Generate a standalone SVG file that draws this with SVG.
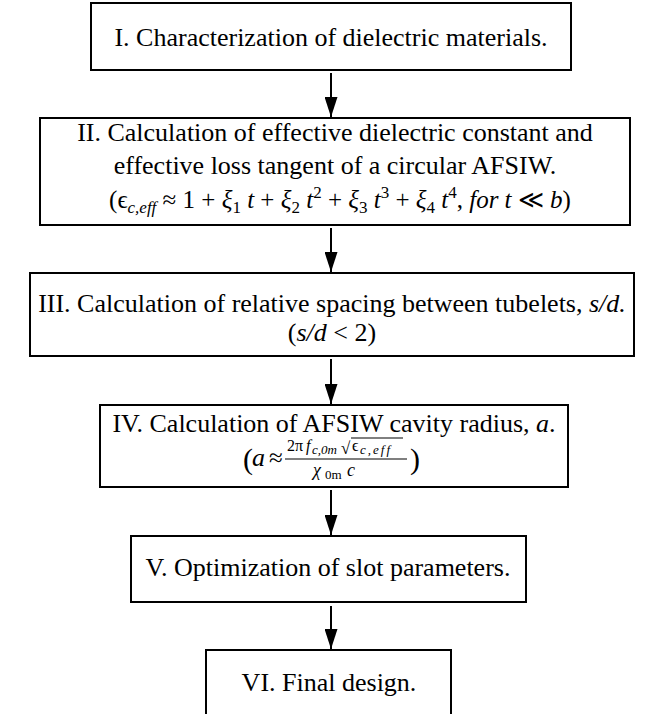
<svg xmlns="http://www.w3.org/2000/svg" width="656" height="714" viewBox="0 0 656 714">
<defs>
<marker id="ah" viewBox="0 0 20 13" refX="20" refY="6.5" markerWidth="20" markerHeight="13" markerUnits="userSpaceOnUse" orient="auto">
<path d="M0,0 L20,6.5 L0,13 Z" fill="#000"/>
</marker>
<style>
.box{fill:#fff;stroke:#000;stroke-width:2}
.t{font-family:"Liberation Serif","Times New Roman",serif;font-size:26px;fill:#000}
.m{font-family:"Liberation Serif","DejaVu Serif",serif;fill:#000}
.i{font-style:italic}
.c{text-anchor:middle}
.con{stroke:#000;stroke-width:2;fill:none}
</style>
</defs>
<rect width="656" height="714" fill="#fff"/>
<g id="connectors">
<line class="con" x1="331" y1="73" x2="331" y2="117" marker-end="url(#ah)"/>
<line class="con" x1="331" y1="228" x2="331" y2="272" marker-end="url(#ah)"/>
<line class="con" x1="331" y1="359" x2="331" y2="404" marker-end="url(#ah)"/>
<line class="con" x1="331" y1="490" x2="331" y2="535" marker-end="url(#ah)"/>
<line class="con" x1="331" y1="606" x2="331" y2="649" marker-end="url(#ah)"/>
</g>
<g id="node1">
<rect class="box" x="91" y="3" width="480" height="67"/>
<text class="t c" x="331" y="46">I. Characterization of dielectric materials.</text>
</g>
<g id="node2">
<rect class="box" x="40" y="118" width="590" height="107"/>
<text class="t c" x="335" y="141">II. Calculation of effective dielectric constant and</text>
<text class="t c" x="335" y="174">effective loss tangent of a circular AFSIW.</text>
<text class="m c" x="340" y="208" font-size="25">(ϵ<tspan class="i" font-size="17" dy="5">c,eff</tspan><tspan dy="-5"> ≈ 1 + </tspan><tspan class="i">ξ</tspan><tspan font-size="17" dy="5">1</tspan><tspan dy="-5"> </tspan><tspan class="i">t</tspan> + <tspan class="i">ξ</tspan><tspan font-size="17" dy="5">2</tspan><tspan dy="-5"> </tspan><tspan class="i">t</tspan><tspan font-size="17" dy="-10">2</tspan><tspan dy="10"> + </tspan><tspan class="i">ξ</tspan><tspan font-size="17" dy="5">3</tspan><tspan dy="-5"> </tspan><tspan class="i">t</tspan><tspan font-size="17" dy="-10">3</tspan><tspan dy="10"> + </tspan><tspan class="i">ξ</tspan><tspan font-size="17" dy="5">4</tspan><tspan dy="-5"> </tspan><tspan class="i">t</tspan><tspan font-size="17" dy="-10">4</tspan><tspan dy="10">, </tspan><tspan class="i">for t</tspan> ≪ <tspan class="i">b</tspan>)</text>
</g>
<g id="node3">
<rect class="box" x="30" y="273" width="604" height="83"/>
<text class="t c" x="332" y="312">III. Calculation of relative spacing between tubelets, <tspan class="i">s/d.</tspan></text>
<text class="m c" x="332" y="341" font-size="26">(<tspan class="i">s/d</tspan> &lt; 2)</text>
</g>
<g id="node4">
<rect class="box" x="100" y="405" width="468" height="82"/>
<text class="t c" x="334" y="432">IV. Calculation of AFSIW cavity radius, <tspan class="i">a</tspan>.</text>
<text class="m" x="243" y="469" font-size="30">(</text>
<text class="m i" x="252" y="466" font-size="26">a</text>
<text class="m" x="269" y="466" font-size="25">≈</text>
<text class="m" x="287" y="451" font-size="16">2π</text>
<text class="m i" x="306" y="451" font-size="16">f</text>
<text class="m i" x="312" y="454" font-size="13">c,0m</text>
<text class="m" x="341" y="454" font-size="17">√</text>
<line x1="351" y1="438" x2="403" y2="438" stroke="#000" stroke-width="1"/>
<text class="m" x="352" y="451" font-size="16">ϵ</text>
<text class="m i" x="360" y="454" font-size="13" textLength="30" lengthAdjust="spacing">c,eff</text>
<line x1="285" y1="459" x2="407" y2="459" stroke="#000" stroke-width="1.2"/>
<text class="m i" x="313" y="476" font-size="18">χ</text>
<text class="m" x="325" y="479" font-size="13">0m</text>
<text class="m i" x="347" y="476" font-size="18">c</text>
<text class="m" x="410" y="469" font-size="30">)</text>
</g>
<g id="node5">
<rect class="box" x="131" y="536" width="395" height="66"/>
<text class="t c" x="328" y="576">V. Optimization of slot parameters.</text>
</g>
<g id="node6">
<rect class="box" x="206" y="650" width="245" height="70"/>
<text class="t c" x="329" y="691">VI. Final design.</text>
</g>
</svg>
